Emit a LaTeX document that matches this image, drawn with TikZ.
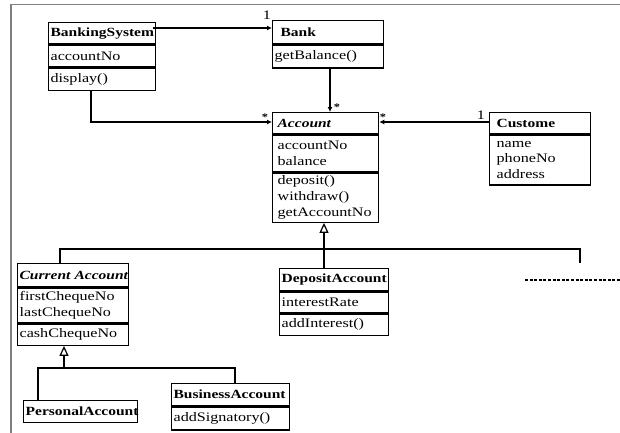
\documentclass[tikz,border=0pt]{standalone}
\usepackage{fontspec}
\setmainfont{Liberation Serif}[FakeStretch=1.24]
\usetikzlibrary{arrows.meta}
\newcommand\umlfont{\fontsize{13}{16}\selectfont}
\newcommand\headfont{\fontsize{12.5}{16}\selectfont\bfseries}
\newcommand\starfont{\fontsize{10}{10}\selectfont\bfseries}
\begin{document}
\begin{tikzpicture}[x=1pt,y=-1pt,
  box/.style={draw, line width=1.3pt, anchor=north west, inner xsep=2pt,
    inner ysep=0pt, align=left, font=\umlfont},
  head/.style={box, font=\headfont},
  conn/.style={line width=1.4pt},
  assoc/.style={conn, -{Latex[length=5pt,width=5pt]}},
  gen/.style={conn, -{Triangle[open,length=10pt,width=9pt,line width=1.2pt]}},
  mult/.style={inner sep=0pt, font=\umlfont},
  star/.style={inner sep=0pt, font=\starfont},
  frame/.style={draw=black!50, line width=1.2pt}]
\useasboundingbox (0,0) rectangle (620,432);

% page frame
\draw[frame] (11,433) -- (11,4.5) -- (621,4.5);

% BankingSystem
\node[head, text width=103pt, minimum height=21pt] (bsh) at (48,22) {BankingSystem};
\node[box, text width=103pt, minimum height=22pt] (bsa) at (bsh.south west) {accountNo};
\node[box, text width=103pt, minimum height=22pt] (bso) at (bsa.south west) {display()};

% Bank
\node[head, text width=107pt, minimum height=23pt] (bkh) at (272,20) {\hspace*{6pt}Bank};
\node[box, text width=107pt, minimum height=23pt] (bko) at (bkh.south west) {getBalance()};

% Account
\node[head, text width=102pt, minimum height=21pt, font=\headfont\itshape] (acch) at (272,112) {\hspace*{3pt}Account};
\node[box, text width=102pt, minimum height=37pt] (acca) at (acch.south west) {\hspace*{3pt}accountNo\\\hspace*{3pt}balance};
\node[box, text width=102pt, minimum height=49pt] (acco) at (acca.south west) {\hspace*{3pt}deposit()\\\hspace*{3pt}withdraw()\\\hspace*{3pt}\makebox[0pt][l]{getAccountNo}};

% Customer
\node[head, text width=97pt, minimum height=21pt] (cuh) at (489,112) {\hspace*{5pt}Custome};
\node[box, text width=97pt, minimum height=50pt, font=\fontsize{13}{15.5}\selectfont] (cua) at (cuh.south west) {\hspace*{5pt}name\\\hspace*{5pt}phoneNo\\\hspace*{5pt}address};

% CurrentAccount
\node[head, text width=107pt, minimum height=23pt, font=\headfont\itshape] (crh) at (17,263) {\makebox[0pt][l]{Current Account}};
\node[box, text width=107pt, minimum height=35pt] (cra) at (crh.south west) {firstChequeNo\\lastChequeNo};
\node[box, text width=107pt, minimum height=21pt] (cro) at (cra.south west) {cashChequeNo};

% DepositAccount
\node[head, text width=105pt, minimum height=22pt] (dph) at (279,268) {DepositAccount};
\node[box, text width=105pt, minimum height=21pt] (dpa) at (dph.south west) {interestRate};
\node[box, text width=105pt, minimum height=21pt] (dpo) at (dpa.south west) {addInterest()};

% PersonalAccount
\node[head, text width=110pt, minimum height=22pt] (pah) at (23,400) {PersonalAccount};

% BusinessAccount
\node[head, text width=114pt, minimum height=22pt] (buh) at (171,383) {BusinessAccount};
\node[box, text width=114pt, minimum height=23pt] (buo) at (buh.south west) {addSignatory()};

% associations
\coordinate (s1) at (153,28);
\draw[assoc] (s1) -- (s1 -| bkh.west);
\coordinate (s2) at (330,0);
\draw[assoc] (s2 |- bko.south) -- (s2 |- acch.north);
\coordinate (s3) at (91,122);
\draw[assoc] (s3 |- bso.south) -- (s3) -- (s3 -| acch.west);
\coordinate (s4) at (0,122);
\draw[assoc] (s4 -| cuh.west) -- (s4 -| acch.east);

% multiplicities
\node[mult] (m1) at (267,15) {1};
\node[star] (m2) at (337,107) {*};
\node[star] (m3) at (265,117) {*};
\node[star] (m4) at (383,117) {*};
\node[mult] (m5) at (481,115) {1};

% generalisation of Account
\coordinate (gA) at (324,249);
\coordinate (gL) at (60,249);
\coordinate (gR) at (580,249);
\coordinate (gE) at (580,263);
\draw[gen] (gA) -- (gA |- acco.south);
\draw[conn] (gL |- crh.north) -- (gL) -- (gR) -- (gE);
\draw[conn] (gA) -- (gA |- dph.north);

% generalisation of CurrentAccount
\coordinate (gC) at (64,368);
\coordinate (gCL) at (38,368);
\coordinate (gCR) at (235,368);
\draw[gen] (gC) -- (gC |- cro.south);
\draw[conn] (gCL |- pah.north) -- (gCL) -- (gCR) -- (gCR |- buh.north);

% further subclasses elided
\draw[line width=1.6pt, dash pattern=on 3pt off 1.6pt] (525,280) -- (620,280);
\end{tikzpicture}
\end{document}
